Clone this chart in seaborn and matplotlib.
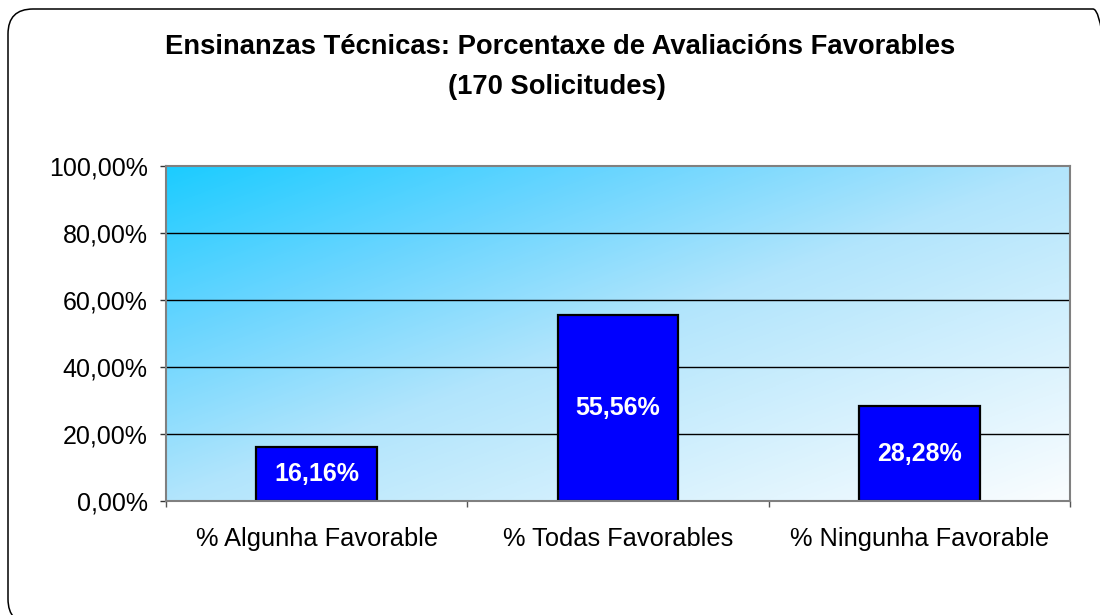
import numpy as np
import pandas as pd
import matplotlib
matplotlib.use("Agg")
import matplotlib.pyplot as plt
from matplotlib.patches import FancyBboxPatch
from matplotlib.transforms import IdentityTransform
from matplotlib.colors import LinearSegmentedColormap
import seaborn as sns

# ---- data ----
categories = ["% Algunha Favorable", "% Todas Favorables", "% Ningunha Favorable"]
values = [16.16, 55.56, 28.28]
yticks = [0, 20, 40, 60, 80, 100]
title_line1 = "Ensinanzas Técnicas: Porcentaxe de Avaliacións Favorables"
title_line2 = "(170 Solicitudes)"

sns.set_theme(style="white")
plt.rcParams['font.family'] = ['Liberation Sans', 'DejaVu Sans']
plt.rcParams['text.color'] = 'black'
plt.rcParams['xtick.labelcolor'] = 'black'
plt.rcParams['ytick.labelcolor'] = 'black'

DPI = 100
fig = plt.figure(figsize=(11, 6.15), dpi=DPI)
fig.patch.set_facecolor("white")

W, H = 1100, 615
ax = fig.add_axes([166 / W, (H - 501) / H, (1070 - 166) / W, (501 - 166) / H])

# gradient background
n = 300
xs = np.linspace(0, 1, n)
ys = np.linspace(0, 1, n)
X, Y = np.meshgrid(xs, ys)  # Y=0 at top (imshow origin upper)
T = (X + Y) / 2
cmap = LinearSegmentedColormap.from_list(
    "grad",
    [(0.0, (28/255, 204/255, 255/255)),
     (0.25, (105/255, 213/255, 255/255)),
     (0.5, (178/255, 229/255, 252/255)),
     (1.0, (250/255, 253/255, 255/255))])
ax.imshow(T, cmap=cmap, vmin=0, vmax=1, extent=[0, 1, 0, 1],
          transform=ax.transAxes, aspect="auto", zorder=0, origin="upper")

df = pd.DataFrame({"cat": categories, "val": values})
sns.barplot(data=df, x="cat", y="val", color="#0000FF", saturation=1,
            width=0.4, edgecolor="black", linewidth=1.6, ax=ax, zorder=2)

ax.set_xlim(-0.5, len(categories) - 0.5)
ax.set_ylim(0, 100)
ax.set_xlabel("")
ax.set_ylabel("")

# labels in bars
labels = [f"{v:.2f}%".replace(".", ",") for v in values]
ax.bar_label(ax.containers[0], labels=labels, label_type="center",
             color="white", fontsize=18, fontweight="bold")

# y axis
ax.set_yticks(yticks)
ax.set_yticklabels([f"{v:.2f}%".replace(".", ",") for v in yticks], fontsize=18)
ax.tick_params(axis="y", which="major", direction="out", length=4.3, width=1,
               color="#333333", pad=9, left=True)

# x axis
ax.set_xticks(range(len(categories)))
ax.set_xticklabels(categories, fontsize=18.3)
ax.set_xticks([i - 0.5 for i in range(len(categories) + 1)], minor=True)
ax.tick_params(axis="x", which="major", length=0, pad=19)
ax.tick_params(axis="x", which="minor", direction="out", length=4.3, width=1,
               color="#555555", bottom=True)

# grid
for y in yticks[1:-1]:
    ax.axhline(y, color="black", linewidth=1, zorder=1)

for s in ax.spines.values():
    s.set_visible(True)
    s.set_color("#808080")
    s.set_linewidth(1.5)
    s.set_zorder(3)

# title
fig.text(560 / W, 1 - 47 / H, title_line1, ha="center", va="center",
         fontsize=19.7, fontweight="bold")
fig.text(557 / W, 1 - 87 / H, title_line2, ha="center", va="center",
         fontsize=19.7, fontweight="bold")

# rounded frame
frame = FancyBboxPatch((8, H - 624), 1118 - 8, 624 - 9,
                       boxstyle="round,pad=0,rounding_size=25",
                       transform=IdentityTransform(), facecolor="none",
                       edgecolor="black", linewidth=1.1, zorder=10)
fig.patches.append(frame)

fig.savefig("out.png", dpi=DPI)
